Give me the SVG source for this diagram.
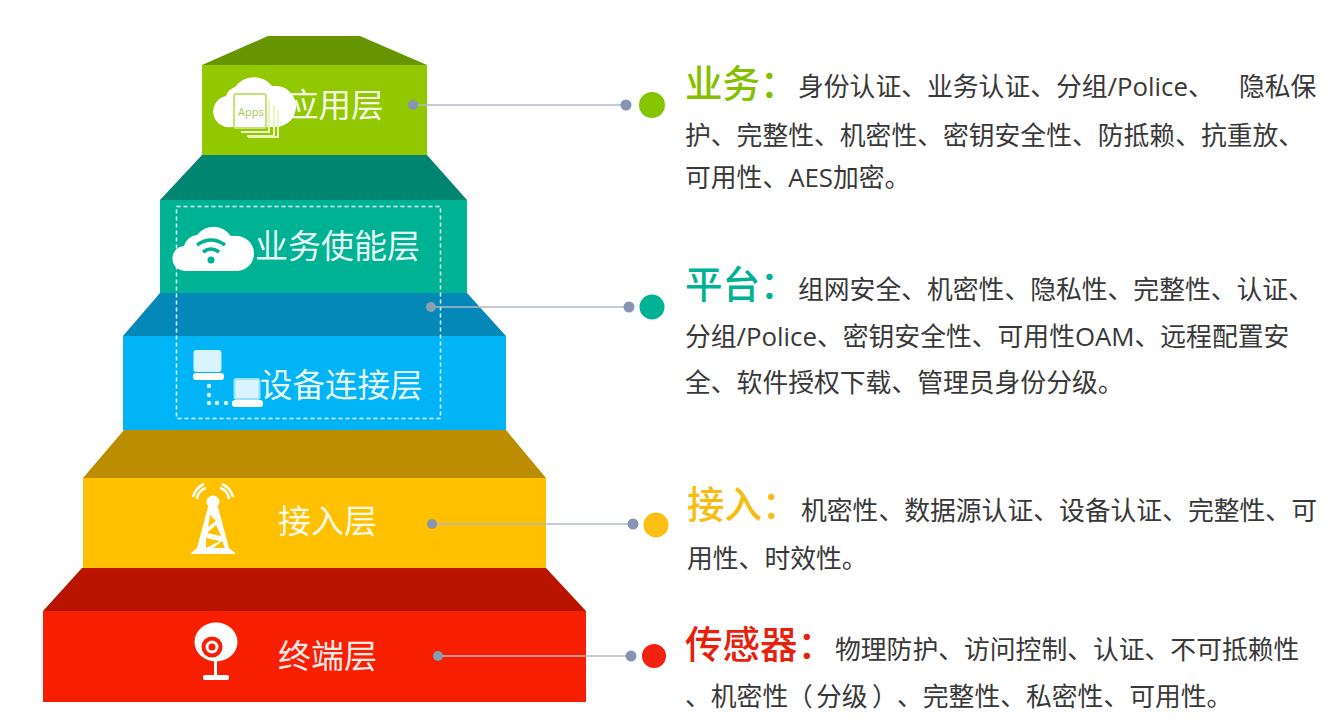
<svg xmlns="http://www.w3.org/2000/svg" width="1334" height="720" viewBox="0 0 1334 720">
<style>
text{font-family:"Open Sans","Noto Sans CJK SC",sans-serif}
.l{fill:#fff;font-size:33px;fill-opacity:.93;font-family:"Noto Sans CJK SC",sans-serif}
.n{font-size:32.500px}
.b{fill:#383838;font-size:25.800px}
.h{font-size:37.500px;font-weight:500;font-family:"Noto Sans CJK SC",sans-serif}
.c{stroke:#b0bac9;stroke-width:1.600;fill:none}
.d{fill:#8794b4}
.w{fill:#fff}
.ws{stroke:#fff;fill:none;stroke-width:2.500}
</style>
<rect width="1334" height="720" fill="#fff"/>
<g id="layer-terminal">
<polygon points="82,568 546,568 586,611 43,611" fill="#b81400"/>
<rect x="43" y="611" width="543" height="91" fill="#f81e00"/>
<g id="icon-camera">
<ellipse cx="216" cy="642" rx="21.500" ry="19.500" class="w"/><circle cx="212" cy="647" r="10.500" fill="#f81e00"/><circle cx="212" cy="647" r="6.500" class="w"/><circle cx="212" cy="647" r="3.500" fill="#f81e00"/>
<rect x="214" y="661" width="3" height="15" class="w"/><rect x="203" y="675" width="26" height="5" rx="2" class="w"/>
</g>
<text class="l" x="278" y="668">终端层</text>
</g>
<g id="layer-access">
<polygon points="124,430 506,430 546,478 83,478" fill="#bc8d00"/>
<rect x="83" y="478" width="463" height="90" fill="#ffc000"/>
<g id="icon-tower">
<path class="ws" d="M197 499a13 13 0 0 1 9-11M193 497a19 19 0 0 1 11-13M229 499a13 13 0 0 0-9-11M233 497a19 19 0 0 0-11-13"/>
<circle cx="213" cy="502" r="6.500" class="w"/>
<path class="w" d="M208 507h10l11 41 7 6h-46l7-6z"/>
<path d="M210 515l6 6-8 6zM216 525l5 11-14-3zM206 538l14 3-14 7zM222 541l3 7-12 0z" fill="#ffc000"/>
</g>
<text class="l" x="278" y="533">接入层</text>
</g>
<g id="layer-device">
<polygon points="160,293 467,293 506,336 123,336" fill="#0388b8"/>
<rect x="123" y="336" width="383" height="94" fill="#00b4f5"/>
<g id="icon-devices">
<rect x="194.500" y="351" width="26" height="20" rx="2" fill="#fff" fill-opacity=".85" stroke="#d5f2ff" stroke-width="2"/>
<rect x="193" y="373" width="31" height="7" rx="3" class="w"/>
<rect x="234.500" y="379" width="25" height="20" rx="2" fill="#fff" fill-opacity=".85" stroke="#9be0fb" stroke-width="2"/>
<rect x="232" y="400" width="31" height="7" rx="3" class="w"/>
<g fill="#d9f4ff"><circle cx="209" cy="386" r="2.200"/><circle cx="209" cy="395" r="2.200"/><circle cx="209" cy="403" r="2.200"/><circle cx="217" cy="403" r="2.200"/><circle cx="226" cy="403" r="2.200"/></g>
</g>
<text class="l n" x="260" y="397">设备连接层</text>
</g>
<g id="layer-enable">
<polygon points="202,155 427,155 467,200 160,200" fill="#008570"/>
<rect x="160" y="200" width="307" height="93" fill="#00b294"/>
<g id="icon-wifi">
<path class="w" d="M186 271a12.500 12.500 0 0 1-2-25 15 15 0 0 1 13-11 21 21 0 0 1 34 1 17 17 0 0 1 5 0 17.500 17.500 0 0 1 1 35z"/>
<path d="M197 245q14-10 28 0M203 252q8-6 16 0" stroke="#00b294" stroke-width="3.500" fill="none"/><circle cx="211" cy="260" r="3.500" fill="#00b294"/>
</g>
<text class="l" x="255" y="258">业务使能层</text>
</g>
<g id="layer-app">
<polygon points="268,36 360,36 427,65 202,65" fill="#669500"/>
<rect x="202" y="65" width="225" height="90" fill="#92c800"/>
<g id="icon-apps">
<path class="w" d="M232 127a15 15 0 0 1-6-31 14 14 0 0 1 9-9 23 23 0 0 1 37-1 14 14 0 0 1 3 0 20.500 20.500 0 0 1 1 41z"/>
<rect x="234" y="94" width="32" height="34" rx="2" fill="#fff" stroke="#c8e27a" stroke-width="2"/>
<path d="M269 99v33h-28M274 105v31h-27M278 110v27h-30" stroke="#eaf5c0" stroke-width="2" fill="none"/>
<text x="238" y="116" font-size="11" fill="#a8c850">Apps</text>
</g>
<text class="l n" x="286" y="117">应用层</text>
</g>
<rect id="platform-frame" x="176.500" y="206.500" width="264" height="212" fill="none" stroke="#fff" stroke-opacity=".9" stroke-width="1.500" stroke-dasharray="4 3"/>
<g id="connectors">
<line class="c" x1="413" y1="105" x2="626" y2="105"/><circle class="d" cx="413" cy="105" r="5"/><circle class="d" cx="626" cy="105" r="5.500"/>
<line class="c" x1="431" y1="307" x2="629" y2="307"/><circle cx="431" cy="307" r="5" fill="#8d9eb0"/><circle class="d" cx="629" cy="307" r="5.500"/>
<line class="c" x1="432" y1="524" x2="633" y2="524"/><circle class="d" cx="432" cy="524" r="5"/><circle class="d" cx="633" cy="524" r="5.500"/>
<line class="c" x1="438" y1="656" x2="631" y2="656"/><circle cx="438" cy="656" r="5" fill="#7f9fb4"/><circle class="d" cx="631" cy="656" r="5.500"/>
</g>
<g id="dot-business"><circle cx="652" cy="105" r="13" fill="#86c400"/></g>
<g id="dot-platform"><circle cx="652" cy="307" r="12.500" fill="#00b294"/></g>
<g id="dot-access"><circle cx="656" cy="525" r="12.500" fill="#fcc015"/></g>
<g id="dot-sensor"><circle cx="654" cy="656" r="12" fill="#f42010"/></g>
<g id="text-business">
<text class="h" x="685" y="97" fill="#84c000">业务：</text>
<text class="b" x="798" y="96">身份认证、业务认证、分组/Police、</text><text class="b" x="1239" y="96">隐私保</text>
<text class="b" x="685" y="145">护、完整性、机密性、密钥安全性、防抵赖、抗重放、</text>
<text class="b" x="685" y="187">可用性、AES加密。</text>
</g>
<g id="text-platform">
<text class="h" x="685" y="298" fill="#00b294">平台：</text>
<text class="b" x="798" y="299">组网安全、机密性、隐私性、完整性、认证、</text>
<text class="b" x="685" y="346">分组/Police、密钥安全性、可用性OAM、远程配置安</text>
<text class="b" x="685" y="392">全、软件授权下载、管理员身份分级。</text>
</g>
<g id="text-access">
<text class="h" x="687" y="518" fill="#f8bc10">接入：</text>
<text class="b" x="801" y="520">机密性、数据源认证、设备认证、完整性、可</text>
<text class="b" x="687" y="568">用性、时效性。</text>
</g>
<g id="text-sensor">
<text class="h" x="685" y="658" fill="#e8200c">传感器：</text>
<text class="b" x="835" y="659">物理防护、访问控制、认证、不可抵赖性</text>
<text class="b" x="685" y="706">、机密性<tspan x="787">（</tspan><tspan x="816">分级</tspan><tspan x="872">）</tspan><tspan x="897">、完整性、私密性、可用性。</tspan></text>
</g>
</svg>
